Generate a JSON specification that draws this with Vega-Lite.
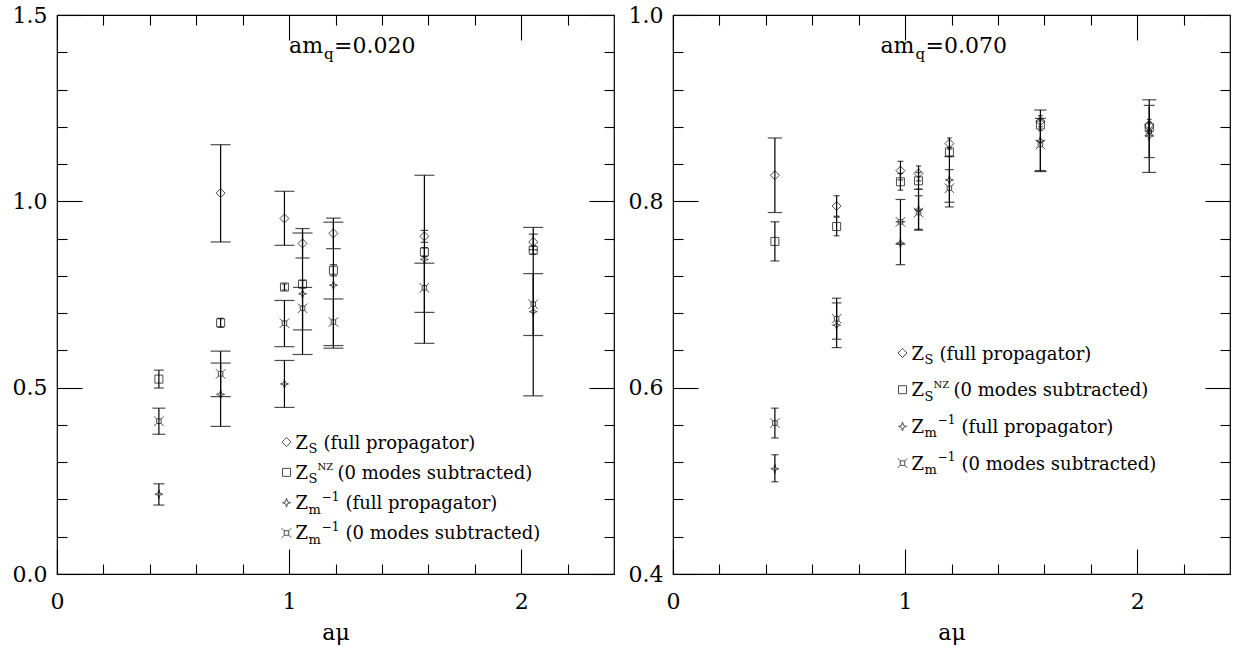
{
"$schema":"https://vega.github.io/schema/vega-lite/v6.json",
"background":"white",
"padding":{"left":11,"top":3,"right":5,"bottom":5},
"spacing":11,
"config":{
 "font":"DejaVu Serif",
 "view":{"stroke":"black","strokeWidth":1.2},
 "axis":{"domain":false,"grid":false,"tickColor":"black","tickWidth":1.1,"labelColor":"black","labelFontSize":22,"labelFont":"DejaVu Serif","labelFlush":false,"labelOverlap":false,"titleFont":"DejaVu Serif","titleFontSize":22,"titleFontWeight":"normal","titleColor":"black"},
 "text":{"color":"black"}
},
"datasets":{"pts":[
{"p":"L","s":"zs","x":0.705,"y":1.022,"lo":0.891,"hi":1.152},
{"p":"L","s":"zs","x":0.980,"y":0.954,"lo":0.882,"hi":1.027},
{"p":"L","s":"zs","x":1.058,"y":0.887,"lo":0.848,"hi":0.927},
{"p":"L","s":"zs","x":1.191,"y":0.914,"lo":0.873,"hi":0.955},
{"p":"L","s":"zs","x":1.583,"y":0.906,"lo":0.890,"hi":0.922},
{"p":"L","s":"zs","x":2.052,"y":0.891,"lo":0.870,"hi":0.912},
{"p":"L","s":"zsnz","x":0.439,"y":0.523,"lo":0.499,"hi":0.547},
{"p":"L","s":"zsnz","x":0.705,"y":0.674,"lo":0.662,"hi":0.686},
{"p":"L","s":"zsnz","x":0.980,"y":0.770,"lo":0.762,"hi":0.778},
{"p":"L","s":"zsnz","x":1.058,"y":0.778,"lo":0.768,"hi":0.788},
{"p":"L","s":"zsnz","x":1.191,"y":0.815,"lo":0.800,"hi":0.830},
{"p":"L","s":"zsnz","x":1.583,"y":0.864,"lo":0.852,"hi":0.876},
{"p":"L","s":"zsnz","x":2.052,"y":0.869,"lo":0.858,"hi":0.880},
{"p":"L","s":"zm","x":0.439,"y":0.214,"lo":0.185,"hi":0.242},
{"p":"L","s":"zm","x":0.705,"y":0.482,"lo":0.396,"hi":0.566},
{"p":"L","s":"zm","x":0.980,"y":0.510,"lo":0.447,"hi":0.573},
{"p":"L","s":"zm","x":1.058,"y":0.752,"lo":0.589,"hi":0.915},
{"p":"L","s":"zm","x":1.191,"y":0.775,"lo":0.606,"hi":0.944},
{"p":"L","s":"zm","x":1.583,"y":0.844,"lo":0.619,"hi":1.070},
{"p":"L","s":"zm","x":2.052,"y":0.704,"lo":0.478,"hi":0.930},
{"p":"L","s":"zm0","x":0.439,"y":0.410,"lo":0.375,"hi":0.445},
{"p":"L","s":"zm0","x":0.705,"y":0.537,"lo":0.476,"hi":0.598},
{"p":"L","s":"zm0","x":0.980,"y":0.673,"lo":0.610,"hi":0.734},
{"p":"L","s":"zm0","x":1.058,"y":0.713,"lo":0.655,"hi":0.769},
{"p":"L","s":"zm0","x":1.191,"y":0.676,"lo":0.613,"hi":0.738},
{"p":"L","s":"zm0","x":1.583,"y":0.768,"lo":0.702,"hi":0.834},
{"p":"L","s":"zm0","x":2.052,"y":0.724,"lo":0.640,"hi":0.806},
{"p":"R","s":"zs","x":0.439,"y":0.828,"lo":0.788,"hi":0.868},
{"p":"R","s":"zs","x":0.705,"y":0.795,"lo":0.784,"hi":0.806},
{"p":"R","s":"zs","x":0.980,"y":0.833,"lo":0.823,"hi":0.843},
{"p":"R","s":"zs","x":1.058,"y":0.830,"lo":0.822,"hi":0.838},
{"p":"R","s":"zs","x":1.191,"y":0.862,"lo":0.856,"hi":0.868},
{"p":"R","s":"zs","x":1.583,"y":0.886,"lo":0.880,"hi":0.892},
{"p":"R","s":"zs","x":2.052,"y":0.882,"lo":0.876,"hi":0.888},
{"p":"R","s":"zsnz","x":0.439,"y":0.757,"lo":0.736,"hi":0.778},
{"p":"R","s":"zsnz","x":0.705,"y":0.773,"lo":0.763,"hi":0.783},
{"p":"R","s":"zsnz","x":0.980,"y":0.821,"lo":0.812,"hi":0.830},
{"p":"R","s":"zsnz","x":1.058,"y":0.822,"lo":0.813,"hi":0.831},
{"p":"R","s":"zsnz","x":1.191,"y":0.853,"lo":0.848,"hi":0.858},
{"p":"R","s":"zsnz","x":1.583,"y":0.882,"lo":0.876,"hi":0.888},
{"p":"R","s":"zsnz","x":2.052,"y":0.879,"lo":0.873,"hi":0.885},
{"p":"R","s":"zm","x":0.439,"y":0.513,"lo":0.499,"hi":0.528},
{"p":"R","s":"zm","x":0.705,"y":0.667,"lo":0.643,"hi":0.691},
{"p":"R","s":"zm","x":0.980,"y":0.755,"lo":0.732,"hi":0.778},
{"p":"R","s":"zm","x":1.058,"y":0.791,"lo":0.769,"hi":0.813},
{"p":"R","s":"zm","x":1.191,"y":0.823,"lo":0.799,"hi":0.848},
{"p":"R","s":"zm","x":1.583,"y":0.865,"lo":0.832,"hi":0.898},
{"p":"R","s":"zm","x":2.052,"y":0.870,"lo":0.831,"hi":0.909},
{"p":"R","s":"zm0","x":0.439,"y":0.562,"lo":0.546,"hi":0.578},
{"p":"R","s":"zm0","x":0.705,"y":0.674,"lo":0.652,"hi":0.696},
{"p":"R","s":"zm0","x":0.980,"y":0.778,"lo":0.754,"hi":0.802},
{"p":"R","s":"zm0","x":1.058,"y":0.788,"lo":0.770,"hi":0.806},
{"p":"R","s":"zm0","x":1.191,"y":0.814,"lo":0.794,"hi":0.834},
{"p":"R","s":"zm0","x":1.583,"y":0.861,"lo":0.833,"hi":0.889},
{"p":"R","s":"zm0","x":2.052,"y":0.875,"lo":0.847,"hi":0.903}
]},
"hconcat":[
{
"width":557,"height":559,
"resolve":{"axis":{"x":"independent","y":"independent"}},
"layer":[
 {"data":{"name":"pts"},"transform":[{"filter":"datum.p === 'L'"}],
  "mark":{"type":"rule","stroke":"black","strokeWidth":1.2},
  "encoding":{
   "x":{"field":"x","type":"quantitative","scale":{"domain":[0,2.4],"nice":false,"zero":false},"axis":{"orient":"bottom","values":[0,1,2],"format":"d","tickSize":-25,"labelPadding":42,"title":"aμ","titlePadding":10}},
   "y":{"field":"lo","type":"quantitative","scale":{"domain":[0,1.5],"nice":false,"zero":false},"axis":{"orient":"left","values":[0,0.5,1,1.5],"format":".1f","tickSize":-25,"labelPadding":35,"title":null}},
   "y2":{"field":"hi"}}},
 {"data":{"name":"pts"},"transform":[{"filter":"datum.p === 'L'"},{"calculate":"datum.hi - datum.lo","as":"err"}],
  "mark":{"type":"tick","orient":"horizontal","thickness":1.2,"color":"black"},
  "encoding":{
   "x":{"field":"x","type":"quantitative","axis":{"orient":"bottom","values":[0.2,0.4,0.6,0.8,1.2,1.4,1.6,1.8,2.2],"tickSize":-10,"labels":false,"title":null}},
   "y":{"field":"lo","type":"quantitative","axis":{"orient":"left","values":[0.1,0.2,0.3,0.4,0.6,0.7,0.8,0.9,1.1,1.2,1.3,1.4],"tickSize":-10,"labels":false,"title":null}},
   "size":{"field":"err","type":"quantitative","scale":{"domain":[0,0.12],"range":[3,20],"clamp":true},"legend":null}}},
 {"data":{"name":"pts"},"transform":[{"filter":"datum.p === 'L'"},{"calculate":"datum.hi - datum.lo","as":"err"}],
  "mark":{"type":"tick","orient":"horizontal","thickness":1.2,"color":"black"},
  "encoding":{
   "x":{"field":"x","type":"quantitative","axis":{"orient":"top","values":[0,1,2],"tickSize":-25,"labels":false,"title":null}},
   "y":{"field":"hi","type":"quantitative","axis":{"orient":"right","values":[0,0.5,1,1.5],"tickSize":-25,"labels":false,"title":null}},
   "size":{"field":"err","type":"quantitative","scale":{"domain":[0,0.12],"range":[3,20],"clamp":true},"legend":null}}},
 {"data":{"name":"pts"},"transform":[{"filter":"datum.p === 'L'"}],
  "mark":{"type":"point","filled":false,"size":100,"stroke":"black","strokeWidth":1},
  "encoding":{
   "x":{"field":"x","type":"quantitative","axis":{"orient":"top","values":[0.2,0.4,0.6,0.8,1.2,1.4,1.6,1.8,2.2],"tickSize":-10,"labels":false,"title":null}},
   "y":{"field":"y","type":"quantitative","axis":{"orient":"right","values":[0.1,0.2,0.3,0.4,0.6,0.7,0.8,0.9,1.1,1.2,1.3,1.4],"tickSize":-10,"labels":false,"title":null}},
   "shape":{"field":"s","type":"nominal","scale":{"domain":["zs","zsnz","zm","zm0"],"range":["M-0.9,0L0,-0.9L0.9,0L0,0.9Z","M-0.8,-0.8L0.8,-0.8L0.8,0.8L-0.8,0.8Z","M0,-0.9L0.2,-0.2L0.8,0L0.2,0.2L0,0.9L-0.2,0.2L-0.8,0L-0.2,-0.2Z","M-0.45,-0.45L0.45,-0.45L0.45,0.45L-0.45,0.45Z M-0.45,-0.45L-0.95,-0.95 M0.45,-0.45L0.95,-0.95 M0.45,0.45L0.95,0.95 M-0.45,0.45L-0.95,0.95"]},"legend":null}}},
 {"data":{"values":[{}]},"mark":{"type":"point","shape":"M-0.9,0L0,-0.9L0.9,0L0,0.9Z","size":100,"filled":false,"stroke":"black","strokeWidth":1},"encoding":{"x":{"datum":0.989,"type":"quantitative","axis":null},"y":{"datum":0.354,"type":"quantitative","axis":null}}},
 {"data":{"values":[{}]},"mark":{"type":"point","shape":"M-0.8,-0.8L0.8,-0.8L0.8,0.8L-0.8,0.8Z","size":100,"filled":false,"stroke":"black","strokeWidth":1},"encoding":{"x":{"datum":0.989,"type":"quantitative","axis":null},"y":{"datum":0.2727,"type":"quantitative","axis":null}}},
 {"data":{"values":[{}]},"mark":{"type":"point","shape":"M0,-0.9L0.2,-0.2L0.8,0L0.2,0.2L0,0.9L-0.2,0.2L-0.8,0L-0.2,-0.2Z","size":100,"filled":false,"stroke":"black","strokeWidth":1},"encoding":{"x":{"datum":0.989,"type":"quantitative","axis":null},"y":{"datum":0.1914,"type":"quantitative","axis":null}}},
 {"data":{"values":[{}]},"mark":{"type":"point","shape":"M-0.45,-0.45L0.45,-0.45L0.45,0.45L-0.45,0.45Z M-0.45,-0.45L-0.95,-0.95 M0.45,-0.45L0.95,-0.95 M0.45,0.45L0.95,0.95 M-0.45,0.45L-0.95,0.95","size":100,"filled":false,"stroke":"black","strokeWidth":1},"encoding":{"x":{"datum":0.989,"type":"quantitative","axis":null},"y":{"datum":0.1101,"type":"quantitative","axis":null}}},
 {"data":{"values":[{}]},"mark":{"type":"text","text":["Z","Z","Z","Z"],"align":"left","baseline":"alphabetic","fontSize":18,"lineHeight":30.3,"dy":6.5},"encoding":{"x":{"datum":1.028,"type":"quantitative","axis":null},"y":{"datum":0.354,"type":"quantitative","axis":null}}},
 {"data":{"values":[{}]},"mark":{"type":"text","text":["S","S","m","m"],"align":"left","baseline":"alphabetic","fontSize":13,"lineHeight":30.3,"dx":13,"dy":11},"encoding":{"x":{"datum":1.028,"type":"quantitative","axis":null},"y":{"datum":0.354,"type":"quantitative","axis":null}}},
 {"data":{"values":[{}]},"mark":{"type":"text","text":"NZ","align":"left","baseline":"alphabetic","fontSize":10,"dx":22,"dy":-2},"encoding":{"x":{"datum":1.028,"type":"quantitative","axis":null},"y":{"datum":0.2727,"type":"quantitative","axis":null}}},
 {"data":{"values":[{}]},"mark":{"type":"text","text":["−1","−1"],"align":"left","baseline":"alphabetic","fontSize":12,"lineHeight":30.3,"dx":26,"dy":-2},"encoding":{"x":{"datum":1.028,"type":"quantitative","axis":null},"y":{"datum":0.1914,"type":"quantitative","axis":null}}},
 {"data":{"values":[{}]},"mark":{"type":"text","text":"(full propagator)","align":"left","baseline":"alphabetic","fontSize":18,"dx":28,"dy":6.5},"encoding":{"x":{"datum":1.028,"type":"quantitative","axis":null},"y":{"datum":0.354,"type":"quantitative","axis":null}}},
 {"data":{"values":[{}]},"mark":{"type":"text","text":"(0 modes subtracted)","align":"left","baseline":"alphabetic","fontSize":18,"dx":42,"dy":6.5},"encoding":{"x":{"datum":1.028,"type":"quantitative","axis":null},"y":{"datum":0.2727,"type":"quantitative","axis":null}}},
 {"data":{"values":[{}]},"mark":{"type":"text","text":["(full propagator)","(0 modes subtracted)"],"align":"left","baseline":"alphabetic","fontSize":18,"lineHeight":30.3,"dx":50,"dy":6.5},"encoding":{"x":{"datum":1.028,"type":"quantitative","axis":null},"y":{"datum":0.1914,"type":"quantitative","axis":null}}},
 {"data":{"values":[{}]},"mark":{"type":"text","text":"am","align":"left","baseline":"alphabetic","fontSize":22,"dy":8},"encoding":{"x":{"datum":1.0,"type":"quantitative","axis":null},"y":{"datum":1.419,"type":"quantitative","axis":null}}},
 {"data":{"values":[{}]},"mark":{"type":"text","text":"q","align":"left","baseline":"alphabetic","fontSize":15,"dx":35,"dy":14},"encoding":{"x":{"datum":1.0,"type":"quantitative","axis":null},"y":{"datum":1.419,"type":"quantitative","axis":null}}},
 {"data":{"values":[{}]},"mark":{"type":"text","text":"=0.020","align":"left","baseline":"alphabetic","fontSize":22,"dx":45,"dy":8},"encoding":{"x":{"datum":1.0,"type":"quantitative","axis":null},"y":{"datum":1.419,"type":"quantitative","axis":null}}}
]
},
{
"width":557,"height":559,
"resolve":{"axis":{"x":"independent","y":"independent"}},
"layer":[
 {"data":{"name":"pts"},"transform":[{"filter":"datum.p === 'R'"}],
  "mark":{"type":"rule","stroke":"black","strokeWidth":1.2},
  "encoding":{
   "x":{"field":"x","type":"quantitative","scale":{"domain":[0,2.4],"nice":false,"zero":false},"axis":{"orient":"bottom","values":[0,1,2],"format":"d","tickSize":-25,"labelPadding":42,"title":"aμ","titlePadding":10}},
   "y":{"field":"lo","type":"quantitative","scale":{"domain":[0.4,1.0],"nice":false,"zero":false},"axis":{"orient":"left","values":[0.4,0.6,0.8,1.0],"format":".1f","tickSize":-25,"labelPadding":35,"title":null}},
   "y2":{"field":"hi"}}},
 {"data":{"name":"pts"},"transform":[{"filter":"datum.p === 'R'"},{"calculate":"datum.hi - datum.lo","as":"err"}],
  "mark":{"type":"tick","orient":"horizontal","thickness":1.2,"color":"black"},
  "encoding":{
   "x":{"field":"x","type":"quantitative","axis":{"orient":"bottom","values":[0.2,0.4,0.6,0.8,1.2,1.4,1.6,1.8,2.2],"tickSize":-10,"labels":false,"title":null}},
   "y":{"field":"lo","type":"quantitative","axis":{"orient":"left","values":[0.44,0.48,0.52,0.56,0.64,0.68,0.72,0.76,0.84,0.88,0.92,0.96],"tickSize":-10,"labels":false,"title":null}},
   "size":{"field":"err","type":"quantitative","scale":{"domain":[0,0.05],"range":[3,20],"clamp":true},"legend":null}}},
 {"data":{"name":"pts"},"transform":[{"filter":"datum.p === 'R'"},{"calculate":"datum.hi - datum.lo","as":"err"}],
  "mark":{"type":"tick","orient":"horizontal","thickness":1.2,"color":"black"},
  "encoding":{
   "x":{"field":"x","type":"quantitative","axis":{"orient":"top","values":[0,1,2],"tickSize":-25,"labels":false,"title":null}},
   "y":{"field":"hi","type":"quantitative","axis":{"orient":"right","values":[0.4,0.6,0.8,1.0],"tickSize":-25,"labels":false,"title":null}},
   "size":{"field":"err","type":"quantitative","scale":{"domain":[0,0.05],"range":[3,20],"clamp":true},"legend":null}}},
 {"data":{"name":"pts"},"transform":[{"filter":"datum.p === 'R'"}],
  "mark":{"type":"point","filled":false,"size":100,"stroke":"black","strokeWidth":1},
  "encoding":{
   "x":{"field":"x","type":"quantitative","axis":{"orient":"top","values":[0.2,0.4,0.6,0.8,1.2,1.4,1.6,1.8,2.2],"tickSize":-10,"labels":false,"title":null}},
   "y":{"field":"y","type":"quantitative","axis":{"orient":"right","values":[0.44,0.48,0.52,0.56,0.64,0.68,0.72,0.76,0.84,0.88,0.92,0.96],"tickSize":-10,"labels":false,"title":null}},
   "shape":{"field":"s","type":"nominal","scale":{"domain":["zs","zsnz","zm","zm0"],"range":["M-0.9,0L0,-0.9L0.9,0L0,0.9Z","M-0.8,-0.8L0.8,-0.8L0.8,0.8L-0.8,0.8Z","M0,-0.9L0.2,-0.2L0.8,0L0.2,0.2L0,0.9L-0.2,0.2L-0.8,0L-0.2,-0.2Z","M-0.45,-0.45L0.45,-0.45L0.45,0.45L-0.45,0.45Z M-0.45,-0.45L-0.95,-0.95 M0.45,-0.45L0.95,-0.95 M0.45,0.45L0.95,0.95 M-0.45,0.45L-0.95,0.95"]},"legend":null}}},
 {"data":{"values":[{}]},"mark":{"type":"point","shape":"M-0.9,0L0,-0.9L0.9,0L0,0.9Z","size":100,"filled":false,"stroke":"black","strokeWidth":1},"encoding":{"x":{"datum":0.989,"type":"quantitative","axis":null},"y":{"datum":0.6372,"type":"quantitative","axis":null}}},
 {"data":{"values":[{}]},"mark":{"type":"point","shape":"M-0.8,-0.8L0.8,-0.8L0.8,0.8L-0.8,0.8Z","size":100,"filled":false,"stroke":"black","strokeWidth":1},"encoding":{"x":{"datum":0.989,"type":"quantitative","axis":null},"y":{"datum":0.5978,"type":"quantitative","axis":null}}},
 {"data":{"values":[{}]},"mark":{"type":"point","shape":"M0,-0.9L0.2,-0.2L0.8,0L0.2,0.2L0,0.9L-0.2,0.2L-0.8,0L-0.2,-0.2Z","size":100,"filled":false,"stroke":"black","strokeWidth":1},"encoding":{"x":{"datum":0.989,"type":"quantitative","axis":null},"y":{"datum":0.5584,"type":"quantitative","axis":null}}},
 {"data":{"values":[{}]},"mark":{"type":"point","shape":"M-0.45,-0.45L0.45,-0.45L0.45,0.45L-0.45,0.45Z M-0.45,-0.45L-0.95,-0.95 M0.45,-0.45L0.95,-0.95 M0.45,0.45L0.95,0.95 M-0.45,0.45L-0.95,0.95","size":100,"filled":false,"stroke":"black","strokeWidth":1},"encoding":{"x":{"datum":0.989,"type":"quantitative","axis":null},"y":{"datum":0.519,"type":"quantitative","axis":null}}},
 {"data":{"values":[{}]},"mark":{"type":"text","text":["Z","Z","Z","Z"],"align":"left","baseline":"alphabetic","fontSize":18,"lineHeight":36.7,"dy":6.5},"encoding":{"x":{"datum":1.028,"type":"quantitative","axis":null},"y":{"datum":0.6372,"type":"quantitative","axis":null}}},
 {"data":{"values":[{}]},"mark":{"type":"text","text":["S","S","m","m"],"align":"left","baseline":"alphabetic","fontSize":13,"lineHeight":36.7,"dx":13,"dy":11},"encoding":{"x":{"datum":1.028,"type":"quantitative","axis":null},"y":{"datum":0.6372,"type":"quantitative","axis":null}}},
 {"data":{"values":[{}]},"mark":{"type":"text","text":"NZ","align":"left","baseline":"alphabetic","fontSize":10,"dx":22,"dy":-2},"encoding":{"x":{"datum":1.028,"type":"quantitative","axis":null},"y":{"datum":0.5978,"type":"quantitative","axis":null}}},
 {"data":{"values":[{}]},"mark":{"type":"text","text":["−1","−1"],"align":"left","baseline":"alphabetic","fontSize":12,"lineHeight":36.7,"dx":26,"dy":-2},"encoding":{"x":{"datum":1.028,"type":"quantitative","axis":null},"y":{"datum":0.5584,"type":"quantitative","axis":null}}},
 {"data":{"values":[{}]},"mark":{"type":"text","text":"(full propagator)","align":"left","baseline":"alphabetic","fontSize":18,"dx":28,"dy":6.5},"encoding":{"x":{"datum":1.028,"type":"quantitative","axis":null},"y":{"datum":0.6372,"type":"quantitative","axis":null}}},
 {"data":{"values":[{}]},"mark":{"type":"text","text":"(0 modes subtracted)","align":"left","baseline":"alphabetic","fontSize":18,"dx":42,"dy":6.5},"encoding":{"x":{"datum":1.028,"type":"quantitative","axis":null},"y":{"datum":0.5978,"type":"quantitative","axis":null}}},
 {"data":{"values":[{}]},"mark":{"type":"text","text":["(full propagator)","(0 modes subtracted)"],"align":"left","baseline":"alphabetic","fontSize":18,"lineHeight":36.7,"dx":50,"dy":6.5},"encoding":{"x":{"datum":1.028,"type":"quantitative","axis":null},"y":{"datum":0.5584,"type":"quantitative","axis":null}}},
 {"data":{"values":[{}]},"mark":{"type":"text","text":"am","align":"left","baseline":"alphabetic","fontSize":22,"dy":8},"encoding":{"x":{"datum":0.894,"type":"quantitative","axis":null},"y":{"datum":0.968,"type":"quantitative","axis":null}}},
 {"data":{"values":[{}]},"mark":{"type":"text","text":"q","align":"left","baseline":"alphabetic","fontSize":15,"dx":35,"dy":14},"encoding":{"x":{"datum":0.894,"type":"quantitative","axis":null},"y":{"datum":0.968,"type":"quantitative","axis":null}}},
 {"data":{"values":[{}]},"mark":{"type":"text","text":"=0.070","align":"left","baseline":"alphabetic","fontSize":22,"dx":45,"dy":8},"encoding":{"x":{"datum":0.894,"type":"quantitative","axis":null},"y":{"datum":0.968,"type":"quantitative","axis":null}}}
]
}
]
}
